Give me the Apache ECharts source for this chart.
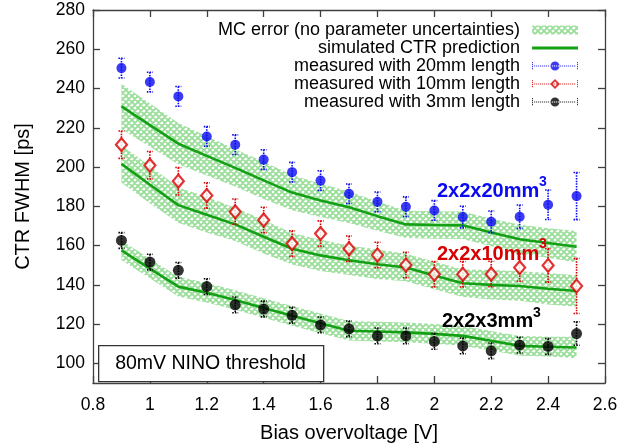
<!DOCTYPE html>
<html>
<head>
<meta charset="utf-8">
<script src="https://cdn.jsdelivr.net/npm/echarts@6/dist/echarts.min.js"></script>
<style>
html,body{margin:0;padding:0;background:#fff;}
#chart{width:644px;height:448px;}
</style>
</head>
<body>
<div id="chart"></div>
<script>
// ---------------- data ----------------
const biasV   = [0.9, 1.0, 1.1, 1.2, 1.3, 1.4, 1.5, 1.6, 1.7, 1.8, 1.9, 2.0, 2.1, 2.2, 2.3, 2.4, 2.5];

const meas20  = [250.4, 243.3, 236.0, 215.6, 211.4, 203.8, 197.4, 193.1, 186.4, 182.3, 179.8, 177.9, 174.5, 172.1, 174.7, 180.8, 185.2];
const err20   = [5, 5, 5, 5, 5, 5, 5, 5, 5, 5, 5, 5, 5.5, 5.5, 6, 7.5, 12];
const meas10  = [211.4, 200.9, 192.8, 185.5, 177.2, 173.0, 161.0, 166.1, 158.4, 155.2, 150.1, 145.4, 145.4, 145.5, 148.8, 149.9, 139.4];
const err10   = [7, 7, 7, 6.5, 6.5, 6.5, 6.5, 6.5, 6.5, 6.5, 6.5, 6.5, 6.5, 6.5, 7, 8.5, 14];
const meas3   = [162.6, 151.6, 147.4, 139.1, 129.8, 127.7, 124.5, 119.6, 117.6, 114.0, 114.0, 111.2, 108.9, 106.4, 109.3, 108.6, 115.2];
const err3    = [4, 4, 4, 4, 4, 4, 4, 4, 4, 4, 4, 4, 4, 4, 4, 4, 6];

const sim20   = [230.9, 221.4, 211.9, 205.7, 199.6, 193.2, 187.0, 183.0, 179.5, 175.0, 170.8, 170.5, 170.3, 166.7, 163.2, 161.3, 159.4];
const band20  = [11.5, 11, 10.5, 10, 9.5, 9.5, 9, 8.5, 8, 7.5, 7, 7, 7, 7, 7.5, 7.5, 8];
const sim10   = [201.6, 191.0, 180.6, 175.7, 170.8, 164.5, 158.4, 155.0, 152.5, 150.5, 148.8, 144.8, 140.8, 140.0, 139.4, 138.0, 136.9];
const band10  = [9.5, 9.5, 9, 9, 8.5, 8.5, 8, 8, 7.5, 7.5, 7, 7, 7, 7.5, 7.5, 8, 8];
const sim3    = [157.6, 148.3, 139.1, 136.0, 132.3, 128.2, 124.2, 120.4, 116.6, 116.2, 115.8, 115.0, 114.0, 111.5, 108.9, 108.5, 108.1];
const band3   = [5, 5, 5, 5, 5, 5, 5, 5, 5, 5, 5, 5, 5, 5, 5, 5, 5.5];

const yTicks  = [100, 120, 140, 160, 180, 200, 220, 240, 260, 280];

const NAME_MC  = 'MC error (no parameter uncertainties)';
const NAME_SIM = 'simulated CTR prediction';
const NAME_20  = 'measured with 20mm length';
const NAME_10  = 'measured with 10mm length';
const NAME_3   = 'measured with 3mm length';

// ---------------- styling helpers ----------------
const FONT = 'Liberation Sans, Arial, Helvetica, sans-serif';
const GREEN = '#14a014';
const BLUE = '#0a0af0';
const RED = '#d80000';
const BLACK = '#000000';

function makeHatch() {
  const c = document.createElement('canvas');
  c.width = 6; c.height = 6;
  const g = c.getContext('2d');
  g.strokeStyle = '#98dd98';
  g.lineWidth = 1.8;
  g.beginPath();
  for (const k of [-6, 0, 6]) {
    g.moveTo(k, 0); g.lineTo(k + 6, 6);
    g.moveTo(k + 6, 0); g.lineTo(k, 6);
  }
  g.stroke();
  return c;
}
const hatch = { image: makeHatch(), repeat: 'repeat' };

function pts(ys) { return biasV.map((x, i) => [x, ys[i]]); }
function errData(ys, es) { return biasV.map((x, i) => [x, ys[i], es[i]]); }

function bandSeries(sim, band) {
  const data = biasV.map((x, i) => [x, sim[i] - band[i], sim[i] + band[i]]);
  return {
    type: 'custom', name: NAME_MC, data: data, z: 1, silent: true, animation: false,
    encode: { x: 0, y: [1, 2] },
    itemStyle: { color: hatch },
    renderItem: function (params, api) {
      if (params.dataIndex !== 0) return null;
      const up = data.map(d => api.coord([d[0], d[2]]));
      const lo = data.map(d => api.coord([d[0], d[1]])).reverse();
      return { type: 'polygon', shape: { points: up.concat(lo) }, style: { fill: hatch, stroke: null } };
    }
  };
}
function simSeries(sim) {
  return { type: 'line', name: NAME_SIM, data: pts(sim), symbol: 'none', showSymbol: false, color: GREEN,
    lineStyle: { color: GREEN, width: 2.6 }, z: 2, animation: false };
}
function errSeries(name, ys, es, color) {
  return {
    type: 'custom', name: name, data: errData(ys, es), z: 3, animation: false, silent: true,
    encode: { x: 0, y: 1 },
    renderItem: function (params, api) {
      const x = api.value(0), y = api.value(1), e = api.value(2);
      const top = api.coord([x, y + e]);
      const bot = api.coord([x, y - e]);
      const cap = 3;
      const st = { stroke: color, lineWidth: 1.6, lineDash: [1.5, 1.2], fill: null };
      return { type: 'group', children: [
        { type: 'line', shape: { x1: top[0], y1: top[1], x2: bot[0], y2: bot[1] }, style: st },
        { type: 'line', shape: { x1: top[0] - cap, y1: top[1], x2: top[0] + cap, y2: top[1] }, style: st },
        { type: 'line', shape: { x1: bot[0] - cap, y1: bot[1], x2: bot[0] + cap, y2: bot[1] }, style: st }
      ]};
    }
  };
}

// legend icons
const BOX = 'M0 0h0.01v0.01h-0.01zM46 10h-0.01v-0.01h0.01z';
function legendIcon(kind) {
  let p = '';
  for (let x = 2; x < 44; x += 2) p += 'M' + x + ' 4.5h1.2v1h-1.2z';
  for (let y = 1; y < 9; y += 2) { p += 'M0 ' + y + 'h1v1.2h-1z'; p += 'M45 ' + y + 'h1v1.2h-1z'; }
  p += BOX;
  if (kind === 'circle') p += 'M18.5 5a4.5 4.5 0 1 0 9 0a4.5 4.5 0 1 0 -9 0z';
  else p += 'M23 0L28 5L23 10L18 5ZM23 2.6L20.6 5L23 7.4L25.4 5Z';
  return 'path://' + p;
}
const lineIcon = 'path://M0 3.6h46v2.8h-46z' + BOX;
const rectIcon = 'path://M0 0.5h46v9h-46z' + BOX;

const chart = echarts.init(document.getElementById('chart'), null, { renderer: 'canvas' });

const axisLineStyle = { color: '#404040', width: 1.3 };

const option = {
  animation: false,
  backgroundColor: '#ffffff',
  grid: { left: 93, right: 39, top: 10, bottom: 63, containLabel: false },
  xAxis: [
    { type: 'value', min: 0.8, max: 2.6, interval: 0.2, position: 'bottom',
      name: 'Bias overvoltage [V]', nameLocation: 'middle', nameGap: 40,
      nameTextStyle: { fontFamily: FONT, fontSize: 20, color: '#000' },
      axisLine: { show: true, onZero: false, lineStyle: axisLineStyle },
      axisTick: { inside: true, length: 7, lineStyle: axisLineStyle },
      axisLabel: { fontFamily: FONT, fontSize: 17.5, color: '#000', margin: 13 },
      splitLine: { show: false } },
    { type: 'value', min: 0.8, max: 2.6, interval: 0.2, position: 'top',
      axisLine: { show: true, onZero: false, lineStyle: axisLineStyle },
      axisTick: { inside: true, length: 7, lineStyle: axisLineStyle },
      axisLabel: { show: false }, splitLine: { show: false } }
  ],
  yAxis: [
    { type: 'value', min: 90, max: 280, position: 'left',
      name: 'CTR FWHM [ps]', nameLocation: 'middle', nameGap: 60,
      nameTextStyle: { fontFamily: FONT, fontSize: 20, color: '#000' },
      axisLine: { show: true, onZero: false, lineStyle: axisLineStyle },
      axisTick: { inside: true, length: 7, customValues: yTicks, lineStyle: axisLineStyle },
      axisLabel: { fontFamily: FONT, fontSize: 17.5, color: '#000', margin: 8, customValues: yTicks },
      splitLine: { show: false } },
    { type: 'value', min: 90, max: 280, position: 'right',
      axisLine: { show: true, onZero: false, lineStyle: axisLineStyle },
      axisTick: { inside: true, length: 7, customValues: yTicks, lineStyle: axisLineStyle },
      axisLabel: { show: false, customValues: yTicks }, splitLine: { show: false } }
  ],
  legend: {
    orient: 'vertical', align: 'right', right: 61, top: 16,
    itemWidth: 46, itemHeight: 10, itemGap: 0,
    textStyle: { fontFamily: FONT, fontSize: 18, color: '#000', lineHeight: 18, padding: [0, 7, 0, 0] },
    selectedMode: false,
    data: [
      { name: NAME_MC, icon: rectIcon, itemStyle: { color: hatch, borderWidth: 0 } },
      { name: NAME_SIM, icon: lineIcon, itemStyle: { color: GREEN, borderWidth: 0 } },
      { name: NAME_20, icon: legendIcon('circle'), itemStyle: { color: BLUE, borderWidth: 0 } },
      { name: NAME_10, icon: legendIcon('diamond'), itemStyle: { color: RED, borderWidth: 0 } },
      { name: NAME_3, icon: legendIcon('circle'), itemStyle: { color: BLACK, borderWidth: 0 } }
    ]
  },
  graphic: [
    { type: 'rect', left: 98, top: 345, z: 100,
      shape: { width: 225, height: 36 }, style: { fill: '#fff', stroke: '#333', lineWidth: 1.3 } },
    { type: 'text', x: 210.5, y: 364, z: 101,
      style: { text: '80mV NINO threshold', font: '19.5px ' + FONT, fill: '#000', align: 'center', verticalAlign: 'middle' } },
    { type: 'text', x: 437, y: 191, z: 101,
      style: { text: '2x2x20mm', font: 'bold 20px ' + FONT, fill: BLUE, align: 'left', verticalAlign: 'middle' } },
    { type: 'text', x: 539, y: 182, z: 101,
      style: { text: '3', font: 'bold 14px ' + FONT, fill: BLUE, align: 'left', verticalAlign: 'middle' } },
    { type: 'text', x: 437, y: 254, z: 101,
      style: { text: '2x2x10mm', font: 'bold 20px ' + FONT, fill: RED, align: 'left', verticalAlign: 'middle' } },
    { type: 'text', x: 539, y: 244, z: 101,
      style: { text: '3', font: 'bold 14px ' + FONT, fill: RED, align: 'left', verticalAlign: 'middle' } },
    { type: 'text', x: 442, y: 321, z: 101,
      style: { text: '2x2x3mm', font: 'bold 20px ' + FONT, fill: BLACK, align: 'left', verticalAlign: 'middle' } },
    { type: 'text', x: 533, y: 313, z: 101,
      style: { text: '3', font: 'bold 14px ' + FONT, fill: BLACK, align: 'left', verticalAlign: 'middle' } }
  ],
  series: [
    bandSeries(sim20, band20),
    bandSeries(sim10, band10),
    bandSeries(sim3, band3),
    simSeries(sim20),
    simSeries(sim10),
    simSeries(sim3),
    { type: 'scatter', name: NAME_20, data: pts(meas20), symbol: 'circle', symbolSize: 10,
      itemStyle: { color: BLUE }, z: 4 },
    { type: 'scatter', name: NAME_10, data: pts(meas10), symbol: 'diamond', symbolSize: [11, 13],
      itemStyle: { color: '#fff', borderColor: RED, borderWidth: 2.2 }, z: 4 },
    { type: 'scatter', name: NAME_3, data: pts(meas3), symbol: 'circle', symbolSize: 11,
      itemStyle: { color: BLACK }, z: 4 },
    errSeries(NAME_20, meas20, err20, BLUE),
    errSeries(NAME_10, meas10, err10, RED),
    errSeries(NAME_3, meas3, err3, BLACK)
  ]
};
chart.setOption(option);
</script>
</body>
</html>
